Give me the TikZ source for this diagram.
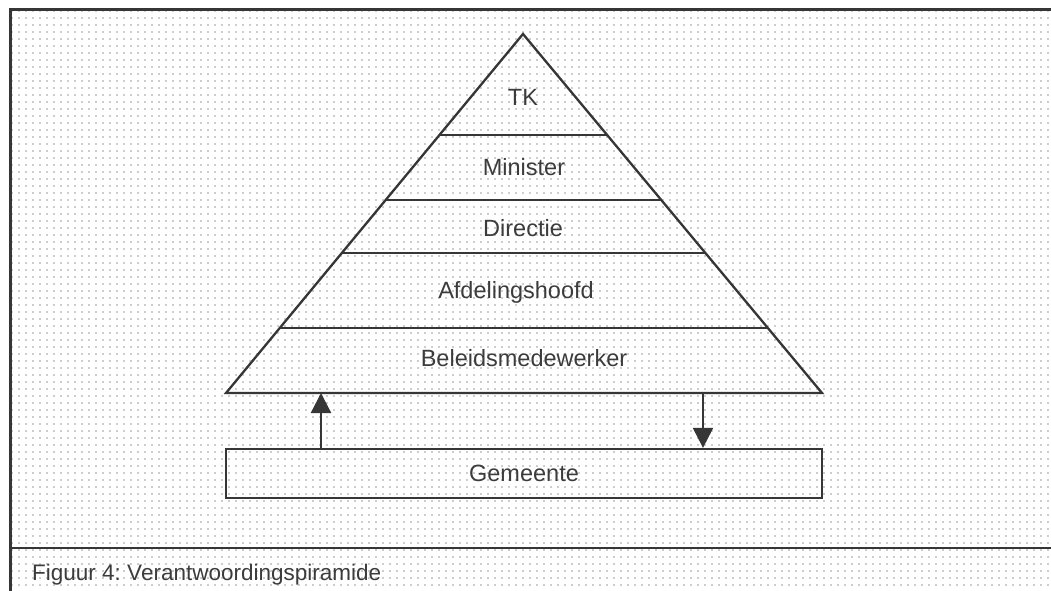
\documentclass[tikz,border=0pt]{standalone}
\usepackage{fontspec}
\setmainfont{Liberation Sans}
\usetikzlibrary{arrows.meta,patterns.meta,calc}
\frenchspacing
\definecolor{ink}{HTML}{363636}
\definecolor{txt}{HTML}{3C3C3C}
\definecolor{dotgray}{HTML}{9A9A9A}
\tikzset{
  edge/.style={draw=ink, line width=2.3pt},
  lbl/.style={font=\fontsize{23.5}{28}\selectfont, text=txt, inner sep=0pt, anchor=base},
  flow/.style={edge, -{Triangle[length=20pt,width=20pt]}},
  frameline/.style={draw=ink, line width=3pt},
}
\begin{document}
\begin{tikzpicture}[x=1pt,y=-1pt]
\useasboundingbox (0,0) rectangle (1051,591);
% paper and stippled panel
\fill[white] (0,0) rectangle (1051,591);
\fill[pattern={Dots[distance=6.5pt,radius=0.9pt]}, pattern color=dotgray] (10,10) rectangle (1051,591);
% panel frame and caption rule
\draw[frameline] (1060,10) -- (10,10) -- (10,600);
\draw[frameline, line width=2.5pt] (10,548) -- (1060,548);

% pyramid outline
\coordinate (apex) at (523,34);
\coordinate (bl) at (226,393);
\coordinate (br) at (822,393);
\draw[edge, line join=miter] (bl) -- (apex) -- (br) -- cycle;
% level separators
\foreach \t in {0.2813,0.4624,0.610,0.819}
  \draw[edge] ($(apex)!\t!(bl)$) -- ($(apex)!\t!(br)$);

% level labels
\node[lbl] (tk)   at (523,106) {TK};
\node[lbl] (min)  at (524,175) {Minister};
\node[lbl] (dir)  at (523,236) {Directie};
\node[lbl] (afd)  at (516,298) {Afdelingshoofd};
\node[lbl] (bel)  at (524,366) {Beleidsmedewerker};

% municipality box
\node[edge, minimum width=596pt, minimum height=49pt, inner sep=0pt,
      font=\fontsize{23.5}{28}\selectfont, text=txt] (gem) at (524,473.5) {Gemeente};

% accountability arrows
\coordinate (upend) at (321,393);
\coordinate (downstart) at (703,393);
\draw[flow] (gem.north -| upend) -- (upend);
\draw[flow] (downstart) -- (gem.north -| downstart);

% caption
\node[lbl, anchor=base west, font=\fontsize{22.5}{27}\selectfont] (cap) at (32,580) {Figuur 4: Verantwoordingspiramide};
\end{tikzpicture}
\end{document}
